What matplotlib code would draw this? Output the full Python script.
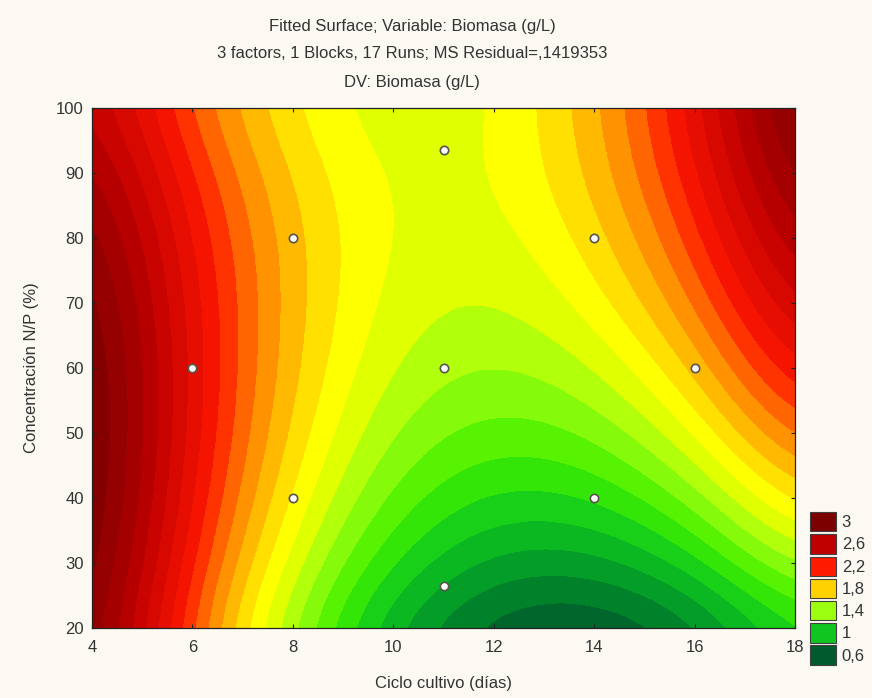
import numpy as np
import matplotlib

matplotlib.use("Agg")
import matplotlib.pyplot as plt
from matplotlib.colors import BoundaryNorm, LinearSegmentedColormap, ListedColormap
from matplotlib.patches import Patch

# fitted surface: Biomasa (g/L) on a coarse grid
ciclo = [4, 6, 8, 10, 12, 14, 16, 18]
concentracion = [20, 30, 40, 50, 60, 70, 80, 90, 100]
biomasa = [
    [2.99, 2.07, 1.37, 0.88, 0.61, 0.56, 0.72, 1.10],
    [3.07, 2.19, 1.53, 1.08, 0.85, 0.84, 1.04, 1.46],
    [3.11, 2.28, 1.66, 1.25, 1.06, 1.09, 1.33, 1.79],
    [3.12, 2.33, 1.75, 1.38, 1.24, 1.30, 1.59, 2.09],
    [3.10, 2.34, 1.80, 1.48, 1.37, 1.48, 1.81, 2.35],
    [3.04, 2.32, 1.82, 1.54, 1.48, 1.63, 1.99, 2.57],
    [2.94, 2.27, 1.81, 1.57, 1.54, 1.73, 2.14, 2.76],
    [2.81, 2.18, 1.76, 1.56, 1.58, 1.81, 2.26, 2.92],
    [2.65, 2.05, 1.68, 1.52, 1.58, 1.85, 2.34, 3.04],
]

# design runs
runs_x = [6, 8, 8, 11, 11, 11, 14, 14, 16]
runs_y = [60, 80, 40, 93.6, 60, 26.4, 80, 40, 60]

legend_values = [3, 2.6, 2.2, 1.8, 1.4, 1, 0.6]
legend_labels = ["3", "2,6", "2,2", "1,8", "1,4", "1", "0,6"]

title_lines = [
    "Fitted Surface; Variable: Biomasa (g/L)",
    "3 factors, 1 Blocks, 17 Runs; MS Residual=,1419353",
    "DV: Biomasa (g/L)",
]

# colour ramp (value, colour)
ramp_values = [0.3, 0.6, 0.8, 1.0, 1.2, 1.4, 1.55, 1.65, 1.8, 2.0, 2.2, 2.6, 3.0, 3.4]
ramp_colors = ["#003c1c", "#005c2c", "#00902a", "#10c820", "#40f000", "#a0ff10",
               "#e0ff00", "#ffff00", "#ffd000", "#ff8000", "#ff1800", "#c00000",
               "#7c0000", "#560000"]

lo, hi = ramp_values[0], ramp_values[-1]
ramp = LinearSegmentedColormap.from_list(
    "statistica", [((v - lo) / (hi - lo), c) for v, c in zip(ramp_values, ramp_colors)]
)
levels = np.round(np.arange(lo, hi + 0.001, 0.1), 2)
centers = (levels[:-1] + levels[1:]) / 2
bands = ListedColormap([ramp((c - lo) / (hi - lo)) for c in centers])
norm = BoundaryNorm(levels, bands.N)

plt.rcParams["font.family"] = ["Liberation Sans", "DejaVu Sans"]
bg = "#fcf9f2"
txt = "#333333"
fs = 12

fig = plt.figure(figsize=(8.72, 6.98), dpi=100, facecolor=bg)
ax = fig.add_axes([92 / 872, 1 - 628 / 698, 703 / 872, 520 / 698])

dx = (ciclo[1] - ciclo[0]) / 2
dy = (concentracion[1] - concentracion[0]) / 2
ax.imshow(
    np.array(biomasa),
    origin="lower",
    extent=[ciclo[0] - dx, ciclo[-1] + dx, concentracion[0] - dy, concentracion[-1] + dy],
    aspect="auto",
    cmap=bands,
    norm=norm,
    interpolation="bicubic",
    interpolation_stage="data",
)
ax.scatter(runs_x, runs_y, s=36, facecolor="white", edgecolor="#55554a",
           linewidth=1.2, zorder=3)

ax.set_xlim(4, 18)
ax.set_ylim(20, 100)
ax.set_xticks(range(4, 19, 2))
ax.set_yticks(range(20, 101, 10))
ax.tick_params(direction="in", top=True, right=True, length=3, width=0.8,
               colors="#222222", labelcolor=txt, labelsize=fs)
ax.tick_params(axis="x", pad=9)
ax.tick_params(axis="y", pad=6)
for s in ax.spines.values():
    s.set_color("#222222")
    s.set_linewidth(0.9)

ax.set_xlabel("Ciclo cultivo (días)", fontsize=fs, color=txt, labelpad=15)
ax.set_ylabel("Concentración N/P (%)", fontsize=fs, color=txt, labelpad=12)

for i, line in enumerate(title_lines):
    fig.text(412 / 872, 1 - (26 + 28 * i) / 698, line, ha="center", va="center",
             fontsize=fs, color=txt)

handles = [Patch(facecolor=ramp((v - lo) / (hi - lo)), edgecolor="#404040", linewidth=0.8)
           for v in legend_values]
fig.legend(handles, legend_labels, loc="upper left",
           bbox_to_anchor=(810 / 872, 1 - 512 / 698), frameon=False,
           fontsize=fs, labelcolor=txt, handlelength=1.55, handleheight=1.4,
           labelspacing=0.18, handletextpad=0.35, borderaxespad=0, borderpad=0)

fig.savefig("out.png", dpi=100, facecolor=bg)
